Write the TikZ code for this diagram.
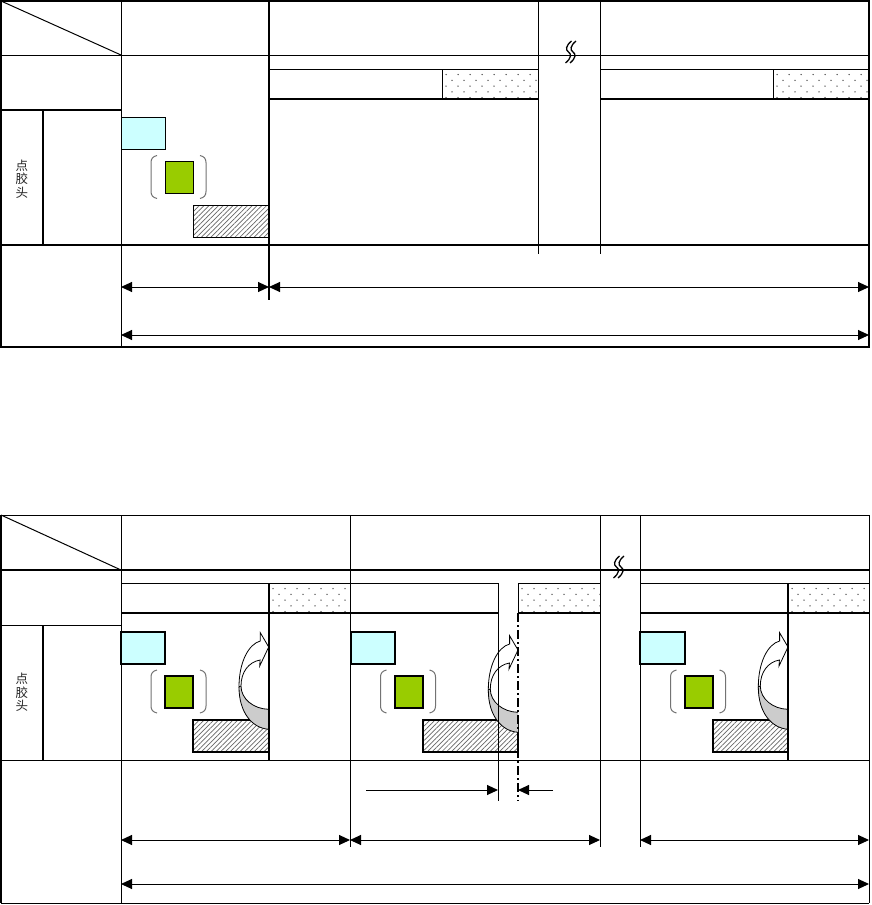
\documentclass[tikz,border=0pt]{standalone}
\usepackage{fontspec}
\newfontfamily\cjk{Noto Sans CJK SC}
\usetikzlibrary{arrows.meta,patterns.meta}
\definecolor{cyanc}{HTML}{CCFFFF}
\definecolor{greenc}{HTML}{99CC00}
\definecolor{grayc}{HTML}{CCCCCC}
\newcommand\myDotBox[4]{%
  \begin{scope}
    \clip (#1,#2) rectangle (#3,#4);
    \foreach \j in {0,...,5}{
      \foreach \i in {0,...,9}{
        \pgfmathsetmacro\dx{#1+4+\i*12+mod(\j,2)*6}
        \pgfmathsetmacro\dy{#2+5.5+\j*5.8}
        \fill[black!70] (\dx,\dy) circle (0.75);
      }
    }
  \end{scope}}
\begin{document}
\begin{tikzpicture}[x=1pt,y=-1pt,
  ln/.style={line width=1pt},
  tk/.style={line width=2pt},
  dim/.style={line width=1pt,{Triangle[length=11pt,width=10pt]}-{Triangle[length=11pt,width=10pt]}},
  dimr/.style={line width=1pt,-{Triangle[length=11pt,width=10pt]}},
  hatchfill/.style={pattern={Lines[angle=45,distance=3.4pt,line width=0.7pt]},pattern color=black!60},
  brkt/.style={draw=black!55,line width=1pt},
  lbl/.style={font=\cjk\fontsize{12.5}{13.6}\selectfont,align=center,text=black!85,inner sep=0pt},
  pics/grp/.style={code={
    \draw[fill=greenc] (0,0) rectangle (28,32);
    \draw[brkt] (-8,-6) .. controls (-12,-5) and (-14,-3) .. (-14,1) -- (-14,30) .. controls (-14,34) and (-12,36) .. (-8,37);
    \draw[brkt] (35,-6) .. controls (39,-5) and (41,-3) .. (41,1) -- (41,30) .. controls (41,34) and (39,36) .. (35,37);
  }},
  pics/uarr/.style={code={
    \fill[grayc] (-29.7,40) .. controls (-29.7,65) and (-17,81) .. (0,82.3) -- (0,62.3) .. controls (-15,62) and (-27.7,52) .. (-27.7,39) -- cycle;
    \draw[line width=0.8pt] (-29.7,40) .. controls (-29.7,65) and (-17,81) .. (0,82.3);
    \draw[line width=0.8pt] (-27.7,39) .. controls (-27.7,52) and (-15,62) .. (0,62.3);
    \draw[line width=0.8pt,fill=white,line join=miter] (-29.7,40) .. controls (-29.7,15) and (-20,-3) .. (-8.4,-6) -- (-8.4,-14.3) -- (0,0) -- (-9,19) -- (-8.6,13) .. controls (-20,15) and (-27.7,25) .. (-27.7,39) -- cycle;
  }},
  pics/brk/.style={code={
    \draw[line width=1.3pt] (0.5,-11) .. controls (-5.5,-6) and (-5.5,-2) .. (-2.5,0) .. controls (0.5,2) and (0.5,6) .. (-5.5,11);
    \draw[line width=1.3pt] (5,-11) .. controls (-1,-6) and (-1,-2) .. (2,0) .. controls (5,2) and (5,6) .. (-1,11);
  }}
]
\useasboundingbox (0,0) rectangle (871,905);
\fill[white] (0,0) rectangle (871,905);

%================ TOP TABLE ================
\myDotBox{442}{69}{538}{99}
\myDotBox{773}{69}{869}{99}
\draw[ln,fill=cyanc] (121,117) rectangle (165,149);
\pic[ln] (g0) at (165,161.5) {grp};
\draw[ln,hatchfill] (193,205) rectangle (269,237);

\draw[tk] (1,1) rectangle (869,347);
\draw[ln] (1,1) -- (121,55);
\draw[ln] (1,55) -- (869,55);
\draw[tk] (1,110) -- (121,110);
\draw[tk] (43,110) -- (43,245);
\draw[tk] (1,245) -- (869,245);
\draw[ln] (121,1) -- (121,347);
\draw[tk] (269,1) -- (269,300);
\draw[ln] (538,1) -- (538,254);
\draw[ln] (600,1) -- (600,254);
\draw[ln] (269,69) -- (538,69) (600,69) -- (869,69);
\draw[ln] (442,69) -- (442,99) (773,69) -- (773,99);
\draw[tk] (269,99) -- (538,99) (600,99) -- (869,99);
\pic (b0) at (571,52) {brk};
\node[lbl] (t0) at (22,179) {点\\胶\\头};

% dimensions top
\coordinate (p1) at (121,287);
\coordinate (p2) at (269,287);
\coordinate (p3) at (869,287);
\coordinate (p4) at (121,335);
\coordinate (p5) at (869,335);
\draw[dim] (p1) -- (p2);
\draw[dim] (p2) -- (p3);
\draw[dim] (p4) -- (p5);

%================ BOTTOM TABLE ================
\myDotBox{269}{583}{350}{613}
\myDotBox{518}{583}{600}{613}
\myDotBox{788}{583}{869}{613}

% section 1
\draw[tk,fill=cyanc] (121,632) rectangle (165,664);
\pic[tk] (g1) at (165,676) {grp};
\draw[tk,hatchfill] (193,720) rectangle (269,752);
\pic (u1) at (268.7,647) {uarr};
% section 2
\draw[tk,fill=cyanc] (351,632) rectangle (395,664);
\pic[tk] (g2) at (394.5,676) {grp};
\draw[tk,hatchfill] (422.7,720) rectangle (518,752);
\pic (u2) at (518,650) {uarr};
% section 3
\draw[tk,fill=cyanc] (640,632) rectangle (684.5,664);
\pic[tk] (g3) at (684.5,676) {grp};
\draw[tk,hatchfill] (712.7,720) rectangle (788,752);
\pic (u3) at (788,647) {uarr};

% frame and grid
\draw[ln] (1,515) -- (869,515);
\draw[tk] (1,515) -- (1,903);
\draw[ln] (869,515) -- (869,903);
\draw[ln] (1,903) -- (869,903);
\draw[ln] (1,515) -- (121,570);
\draw[tk] (1,570) -- (869,570);
\draw[ln] (1,625) -- (121,625);
\draw[tk] (43,625) -- (43,760);
\draw[ln] (1,760) -- (869,760);
\draw[ln] (121,515) -- (121,903);
\draw[ln] (350,515) -- (350,847);
\draw[ln] (600,515) -- (600,847);
\draw[ln] (640,515) -- (640,847);
% section 1 lines
\draw[ln] (121,583) -- (350,583);
\draw[tk] (121,613) -- (350,613);
\draw[tk] (269,583) -- (269,760);
% section 2 lines
\draw[ln] (350,583) -- (498,583) -- (498,801);
\draw[tk] (350,613) -- (498,613);
\draw[ln] (518,583) -- (600,583) (518,583) -- (518,613);
\draw[tk] (518,613) -- (600,613);
\draw[tk,dash pattern=on 9pt off 3pt on 2pt off 3pt] (518,613) -- (518,801);
% section 3 lines
\draw[ln] (640,583) -- (869,583);
\draw[tk] (640,613) -- (869,613);
\draw[tk] (788,583) -- (788,760);

\pic (b1) at (619,567) {brk};
\node[lbl] (t1) at (22,692.5) {点\\胶\\头};

% dimensions bottom
\coordinate (q1) at (366,790);
\coordinate (q2) at (498,790);
\coordinate (q3) at (553,790);
\coordinate (q4) at (518,790);
\coordinate (r1) at (121,840);
\coordinate (r2) at (350,840);
\coordinate (r3) at (600,840);
\coordinate (r4) at (640,840);
\coordinate (r5) at (869,840);
\coordinate (s1) at (121,884);
\coordinate (s2) at (869,884);
\draw[dimr] (q1) -- (q2);
\draw[dimr] (q3) -- (q4);
\draw[dim] (r1) -- (r2);
\draw[dim] (r2) -- (r3);
\draw[dim] (r4) -- (r5);
\draw[dim] (s1) -- (s2);
\end{tikzpicture}
\end{document}
